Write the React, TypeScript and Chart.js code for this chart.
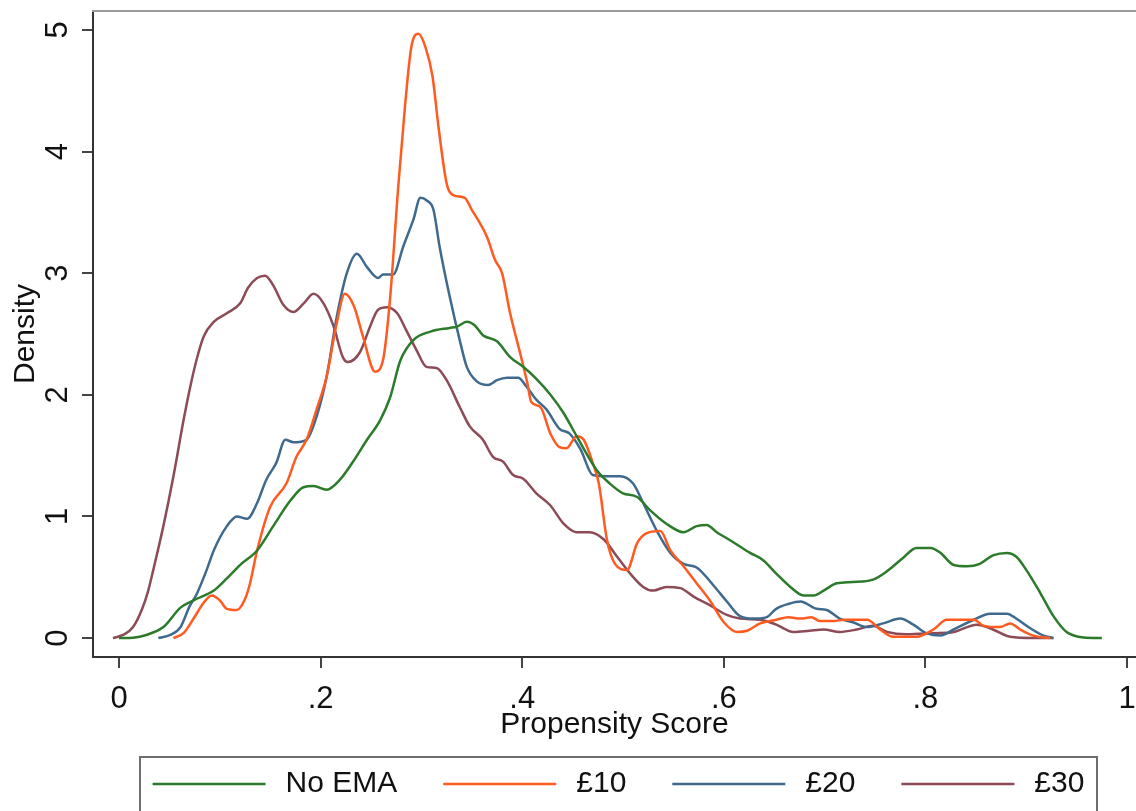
import React, { useEffect, useRef } from "react";
import { Chart, registerables } from "chart.js";

Chart.register(...registerables);

// Kernel density estimates of the propensity score, by incentive group
const seriesLabels = ["No EMA", "£10", "£20", "£30"];
const seriesColors = ["#2b7b2b", "#ff5a1f", "#3f6a8e", "#8c4b57"];

const noEmaX = [0.0, 0.014, 0.027, 0.044, 0.061, 0.074, 0.094, 0.107, 0.12, 0.137, 0.153, 0.17, 0.183, 0.193, 0.206, 0.219, 0.233, 0.246, 0.259, 0.269, 0.279, 0.292, 0.309, 0.328, 0.335, 0.345, 0.353, 0.361, 0.375, 0.388, 0.401, 0.414, 0.428, 0.441, 0.454, 0.474, 0.487, 0.5, 0.514, 0.527, 0.543, 0.56, 0.573, 0.583, 0.593, 0.609, 0.626, 0.639, 0.652, 0.666, 0.679, 0.689, 0.699, 0.712, 0.728, 0.748, 0.762, 0.778, 0.791, 0.805, 0.815, 0.828, 0.841, 0.854, 0.867, 0.881, 0.89, 0.9, 0.914, 0.927, 0.94, 0.957, 0.975];
const noEmaY = [0.0, 0.003, 0.025, 0.09, 0.25, 0.31, 0.39, 0.49, 0.6, 0.72, 0.92, 1.13, 1.24, 1.25, 1.22, 1.3, 1.46, 1.63, 1.79, 1.98, 2.28, 2.45, 2.52, 2.55, 2.56, 2.6, 2.57, 2.49, 2.44, 2.31, 2.23, 2.13, 2.0, 1.85, 1.66, 1.38, 1.27, 1.19, 1.16, 1.05, 0.94, 0.87, 0.92, 0.93, 0.87, 0.79, 0.7, 0.64, 0.53, 0.42, 0.35, 0.35, 0.39, 0.45, 0.46, 0.48, 0.55, 0.66, 0.74, 0.74, 0.7, 0.6, 0.59, 0.61, 0.68, 0.7, 0.67, 0.56, 0.37, 0.18, 0.05, 0.005, 0.0];

const tenX = [0.054, 0.064, 0.074, 0.084, 0.092, 0.1, 0.107, 0.117, 0.125, 0.13, 0.137, 0.15, 0.166, 0.176, 0.186, 0.196, 0.206, 0.216, 0.224, 0.233, 0.242, 0.254, 0.262, 0.269, 0.277, 0.284, 0.29, 0.297, 0.304, 0.311, 0.317, 0.325, 0.332, 0.343, 0.35, 0.356, 0.365, 0.373, 0.38, 0.388, 0.398, 0.405, 0.409, 0.418, 0.428, 0.437, 0.444, 0.454, 0.461, 0.47, 0.476, 0.484, 0.492, 0.504, 0.514, 0.523, 0.537, 0.547, 0.56, 0.573, 0.586, 0.6, 0.613, 0.623, 0.636, 0.652, 0.664, 0.676, 0.687, 0.695, 0.709, 0.719, 0.742, 0.755, 0.768, 0.791, 0.808, 0.821, 0.848, 0.858, 0.874, 0.884, 0.894, 0.907, 0.924];
const tenY = [0.0, 0.04, 0.16, 0.29, 0.35, 0.31, 0.24, 0.23, 0.32, 0.45, 0.72, 1.08, 1.27, 1.49, 1.63, 1.88, 2.15, 2.59, 2.83, 2.73, 2.48, 2.19, 2.29, 2.8, 3.71, 4.4, 4.86, 4.97, 4.86, 4.62, 4.2, 3.74, 3.64, 3.62, 3.52, 3.44, 3.3, 3.11, 3.0, 2.67, 2.34, 2.1, 1.94, 1.9, 1.68, 1.57, 1.56, 1.66, 1.63, 1.44, 1.27, 0.81, 0.61, 0.56, 0.78, 0.86, 0.88, 0.72, 0.59, 0.45, 0.31, 0.13, 0.05, 0.06, 0.12, 0.15, 0.17, 0.16, 0.17, 0.14, 0.14, 0.15, 0.15, 0.07, 0.01, 0.01, 0.07, 0.15, 0.15, 0.1, 0.09, 0.12, 0.07, 0.02, 0.0];

const twentyX = [0.039, 0.051, 0.061, 0.07, 0.077, 0.087, 0.094, 0.107, 0.117, 0.127, 0.137, 0.146, 0.156, 0.165, 0.173, 0.186, 0.196, 0.206, 0.216, 0.226, 0.236, 0.246, 0.257, 0.262, 0.272, 0.282, 0.292, 0.299, 0.305, 0.312, 0.318, 0.328, 0.338, 0.345, 0.355, 0.366, 0.375, 0.385, 0.396, 0.404, 0.414, 0.424, 0.437, 0.447, 0.458, 0.47, 0.484, 0.497, 0.51, 0.52, 0.533, 0.547, 0.56, 0.573, 0.59, 0.603, 0.616, 0.629, 0.642, 0.652, 0.664, 0.676, 0.692, 0.702, 0.715, 0.728, 0.742, 0.758, 0.775, 0.788, 0.801, 0.815, 0.828, 0.848, 0.864, 0.881, 0.89, 0.904, 0.917, 0.927];
const twentyY = [0.0, 0.025, 0.09, 0.26, 0.36, 0.56, 0.72, 0.92, 1.0, 0.98, 1.11, 1.3, 1.44, 1.63, 1.61, 1.63, 1.82, 2.15, 2.64, 3.0, 3.16, 3.05, 2.96, 2.99, 2.99, 3.22, 3.44, 3.62, 3.6, 3.52, 3.22, 2.81, 2.45, 2.23, 2.11, 2.08, 2.12, 2.14, 2.14, 2.07, 1.96, 1.88, 1.72, 1.68, 1.55, 1.34, 1.33, 1.33, 1.27, 1.11, 0.89, 0.7, 0.61, 0.58, 0.43, 0.3, 0.18, 0.16, 0.17, 0.24, 0.28, 0.3, 0.24, 0.23, 0.16, 0.13, 0.09, 0.12, 0.16, 0.11, 0.04, 0.02, 0.07, 0.15, 0.2, 0.2, 0.16, 0.08, 0.02, 0.0];

const thirtyX = [-0.006, 0.004, 0.014, 0.023, 0.029, 0.034, 0.044, 0.054, 0.064, 0.07, 0.077, 0.084, 0.094, 0.107, 0.12, 0.128, 0.137, 0.145, 0.153, 0.163, 0.173, 0.183, 0.193, 0.203, 0.213, 0.222, 0.227, 0.239, 0.249, 0.257, 0.266, 0.276, 0.285, 0.295, 0.305, 0.315, 0.325, 0.338, 0.348, 0.361, 0.371, 0.381, 0.391, 0.401, 0.414, 0.428, 0.441, 0.454, 0.467, 0.481, 0.494, 0.507, 0.52, 0.53, 0.543, 0.557, 0.57, 0.586, 0.603, 0.616, 0.636, 0.652, 0.669, 0.685, 0.699, 0.715, 0.732, 0.748, 0.762, 0.781, 0.808, 0.828, 0.851, 0.867, 0.884, 0.907, 0.927];
const thirtyY = [0.0, 0.025, 0.09, 0.24, 0.39, 0.56, 0.92, 1.33, 1.79, 2.04, 2.29, 2.48, 2.6, 2.67, 2.75, 2.88, 2.96, 2.98, 2.9, 2.74, 2.68, 2.75, 2.83, 2.75, 2.56, 2.31, 2.27, 2.35, 2.56, 2.7, 2.72, 2.67, 2.53, 2.37, 2.23, 2.22, 2.12, 1.9, 1.74, 1.63, 1.49, 1.45, 1.34, 1.31, 1.19, 1.09, 0.94, 0.87, 0.87, 0.81, 0.67, 0.53, 0.42, 0.39, 0.42, 0.41, 0.34, 0.27, 0.19, 0.16, 0.15, 0.11, 0.05, 0.06, 0.07, 0.05, 0.07, 0.1, 0.05, 0.03, 0.04, 0.05, 0.11, 0.07, 0.01, 0.0, 0.0];

const seriesX = [noEmaX, tenX, twentyX, thirtyX];
const seriesY = [noEmaY, tenY, twentyY, thirtyY];

const xTicks = [0, 0.2, 0.4, 0.6, 0.8, 1];
const xTickLabels = ["0", ".2", ".4", ".6", ".8", "1"];
const yTicks = [0, 1, 2, 3, 4, 5];
const yTickLabels = ["0", "1", "2", "3", "4", "5"];

const xTitle = "Propensity Score";
const yTitle = "Density";

const FONT_FAMILY = "'Liberation Sans', Arial, Helvetica, sans-serif";
const TEXT_COLOR = "#111111";

// Axes keep a fixed footprint so the plot region sits where it should
function pinScale(scale: any, size: { width?: number; height?: number }) {
  if (size.width !== undefined) scale.width = size.width;
  if (size.height !== undefined) scale.height = size.height;
  scale.paddingTop = 0;
  scale.paddingBottom = 0;
  scale.paddingLeft = 0;
  scale.paddingRight = 0;
}

// Frame line along the top of the plot region and the boxed key beneath the axes
const frameAndKey = {
  id: "frameAndKey",
  afterDraw(chart: any) {
    const { ctx, chartArea } = chart;
    ctx.save();
    ctx.strokeStyle = "#9c9c9c";
    ctx.lineWidth = 2;
    ctx.beginPath();
    ctx.moveTo(chartArea.left - 1, chartArea.top);
    ctx.lineTo(chartArea.right, chartArea.top);
    ctx.stroke();

    const boxLeft = 140;
    const boxRight = 1097;
    const boxTop = 757;
    ctx.strokeStyle = "#6e6e6e";
    ctx.lineWidth = 2;
    ctx.strokeRect(boxLeft, boxTop, boxRight - boxLeft, 120);

    ctx.font = `30px ${FONT_FAMILY}`;
    ctx.textBaseline = "middle";
    ctx.textAlign = "left";
    const lineLen = 113;
    const textGap = 20;
    const itemGap = 46;
    const widths = seriesLabels.map((l) => ctx.measureText(l).width);
    const total =
      widths.reduce((a: number, w: number) => a + lineLen + textGap + w, 0) +
      itemGap * (seriesLabels.length - 1);
    let x = (boxLeft + boxRight) / 2 - total / 2;
    const y = 784;
    seriesLabels.forEach((label, i) => {
      ctx.strokeStyle = seriesColors[i];
      ctx.lineWidth = 2.5;
      ctx.beginPath();
      ctx.moveTo(x, y);
      ctx.lineTo(x + lineLen, y);
      ctx.stroke();
      ctx.fillStyle = TEXT_COLOR;
      ctx.fillText(label, x + lineLen + textGap, y);
      x += lineLen + textGap + widths[i] + itemGap;
    });
    ctx.restore();
  },
};

export default function App() {
  const canvasRef = useRef<HTMLCanvasElement>(null);

  useEffect(() => {
    const canvas = canvasRef.current;
    if (!canvas) return;

    const datasets = seriesLabels.map((label, i) => ({
      label,
      data: seriesX[i].map((x, j) => ({ x, y: seriesY[i][j] })),
      borderColor: seriesColors[i],
      backgroundColor: seriesColors[i],
      borderWidth: 2.5,
      pointRadius: 0,
      fill: false,
      cubicInterpolationMode: "monotone" as const,
    }));

    const chart = new Chart(canvas, {
      type: "line",
      data: { datasets },
      options: {
        responsive: false,
        animation: false,
        layout: { padding: { top: 11, left: 0, right: 0, bottom: 0 } },
        plugins: {
          legend: { display: false },
          tooltip: { enabled: false },
        },
        scales: {
          x: {
            type: "linear",
            min: -0.0258,
            max: 1.0089,
            afterFit: (scale: any) => pinScale(scale, { height: 154 }),
            afterBuildTicks: (scale: any) => {
              scale.ticks = xTicks.map((value) => ({ value }));
            },
            ticks: {
              autoSkip: false,
              maxRotation: 0,
              minRotation: 0,
              padding: 13,
              color: TEXT_COLOR,
              font: { family: FONT_FAMILY, size: 31 },
              callback: (value: any) => {
                const k = xTicks.findIndex((t) => Math.abs(t - Number(value)) < 1e-9);
                return k >= 0 ? xTickLabels[k] : "";
              },
            },
            grid: {
              display: true,
              drawOnChartArea: false,
              drawTicks: true,
              tickLength: 11,
              color: "#444444",
              lineWidth: 2,
            },
            border: { display: true, color: "#333333", width: 2 },
            title: {
              display: true,
              text: xTitle,
              color: TEXT_COLOR,
              font: { family: FONT_FAMILY, size: 30 },
              padding: { top: 0, bottom: 68 },
            },
          },
          y: {
            type: "linear",
            min: -0.1562,
            max: 5.1562,
            afterFit: (scale: any) => pinScale(scale, { width: 93 }),
            afterBuildTicks: (scale: any) => {
              scale.ticks = yTicks.map((value) => ({ value }));
            },
            ticks: {
              autoSkip: false,
              minRotation: 90,
              maxRotation: 90,
              crossAlign: "center",
              padding: 15,
              color: TEXT_COLOR,
              font: { family: FONT_FAMILY, size: 31 },
              callback: (value: any) => {
                const k = yTicks.findIndex((t) => Math.abs(t - Number(value)) < 1e-9);
                return k >= 0 ? yTickLabels[k] : "";
              },
            },
            grid: {
              display: true,
              drawOnChartArea: false,
              drawTicks: true,
              tickLength: 11,
              color: "#444444",
              lineWidth: 2,
            },
            border: { display: true, color: "#333333", width: 2 },
            title: {
              display: true,
              text: yTitle,
              color: TEXT_COLOR,
              font: { family: FONT_FAMILY, size: 30 },
              padding: { top: 8, bottom: 0 },
            },
          },
        },
      },
      plugins: [frameAndKey],
    });

    return () => chart.destroy();
  }, []);

  return (
    <div
      style={{
        position: "fixed",
        left: 0,
        top: 0,
        width: 1136,
        height: 811,
        background: "#ffffff",
        overflow: "hidden",
      }}
    >
      <canvas ref={canvasRef} width={1136} height={811} style={{ display: "block" }} />
    </div>
  );
}
